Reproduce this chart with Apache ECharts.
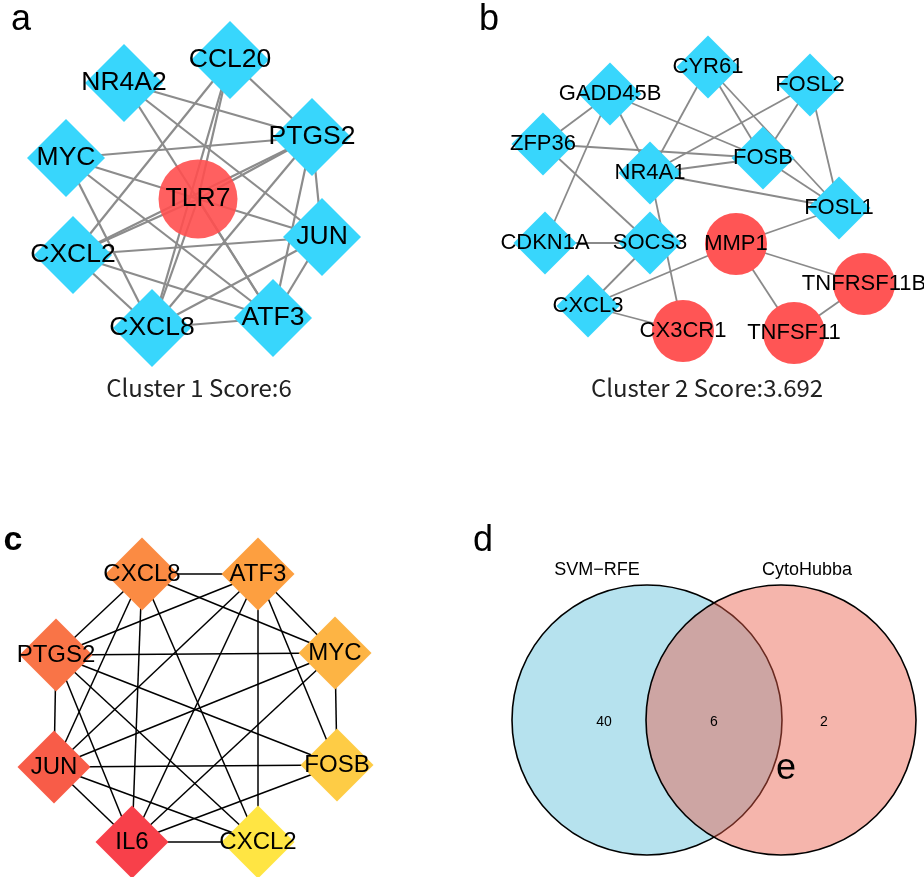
<!DOCTYPE html>
<html><head><meta charset="utf-8">
<script src="https://cdn.jsdelivr.net/npm/echarts@6/dist/echarts.min.js"></script>
<style>html,body{margin:0;padding:0;background:#fff}#c{width:924px;height:877px}</style>
</head><body><div id="c"></div>
<script>
// ---------- Panel a : Cluster 1 ----------
const genesA = ['TLR7','CCL20','NR4A2','PTGS2','MYC','JUN','CXCL2','CXCL8','ATF3'];
const seedsA = ['TLR7'];
const layoutA = [[198,199],[230,60],[124,83],[312,137],[66,158],[322,237],[73,255],[152,328],[273,318]];
const edgesA = [
  ['TLR7','CCL20'],['TLR7','PTGS2'],['TLR7','MYC'],['TLR7','JUN'],['TLR7','CXCL2'],['TLR7','CXCL8'],['TLR7','ATF3'],
  ['NR4A2','PTGS2'],['NR4A2','JUN'],['NR4A2','ATF3'],
  ['CCL20','PTGS2'],['CCL20','CXCL2'],['CCL20','CXCL8'],
  ['MYC','PTGS2'],['MYC','ATF3'],['MYC','CXCL8'],
  ['CXCL2','JUN'],['CXCL2','ATF3'],['CXCL2','CXCL8'],['CXCL2','PTGS2'],
  ['CXCL8','ATF3'],['CXCL8','JUN'],['CXCL8','PTGS2'],
  ['PTGS2','ATF3'],['PTGS2','JUN'],['JUN','ATF3']
];
const captionA = 'Cluster 1 Score:6';

// ---------- Panel b : Cluster 2 ----------
const genesB = ['CYR61','GADD45B','FOSL2','ZFP36','NR4A1','FOSB','FOSL1','CDKN1A','SOCS3','CXCL3','MMP1','TNFRSF11B','TNFSF11','CX3CR1'];
const seedsB = ['MMP1','TNFRSF11B','TNFSF11','CX3CR1'];
const layoutB = [[708,67],[610,94],[810,85],[543,144],[650,173],[763,158],[839,208],[545,243],[650,243],[588,306],[736,244],[864,284],[794,333],[683,331]];
const edgesB = [
  ['GADD45B','ZFP36'],['GADD45B','CDKN1A'],['GADD45B','NR4A1'],['GADD45B','FOSB'],
  ['ZFP36','FOSB'],['ZFP36','SOCS3'],
  ['CYR61','NR4A1'],['CYR61','FOSB'],['CYR61','FOSL1'],
  ['FOSL2','NR4A1'],['FOSL2','FOSB'],['FOSL2','FOSL1'],
  ['NR4A1','FOSB'],['NR4A1','FOSL1'],['NR4A1','CX3CR1'],
  ['FOSB','FOSL1'],['FOSL1','MMP1'],
  ['CDKN1A','SOCS3'],['SOCS3','CXCL3'],['CXCL3','MMP1'],['CXCL3','CX3CR1'],
  ['MMP1','TNFRSF11B'],['MMP1','TNFSF11'],['TNFRSF11B','TNFSF11']
];
const captionB = 'Cluster 2 Score:3.692';

// ---------- Panel c : hub genes (rank order, 1 = top) ----------
const genesC = ['IL6','JUN','PTGS2','CXCL8','ATF3','MYC','FOSB','CXCL2'];
const rankC = [1,2,3,4,5,6,7,8];
const layoutC = [[132,842],[54,767],[56,655],[142,574],[258,574],[335,653],[337,765],[258,842]];
const edgesC = [
  ['CXCL8','ATF3'],['CXCL8','PTGS2'],['CXCL8','JUN'],['CXCL8','IL6'],['CXCL8','CXCL2'],['CXCL8','MYC'],
  ['ATF3','PTGS2'],['ATF3','JUN'],['ATF3','IL6'],['ATF3','CXCL2'],['ATF3','MYC'],['ATF3','FOSB'],
  ['PTGS2','MYC'],['PTGS2','JUN'],['PTGS2','FOSB'],['PTGS2','CXCL2'],['PTGS2','IL6'],
  ['MYC','FOSB'],['MYC','JUN'],['MYC','IL6'],
  ['JUN','FOSB'],['JUN','CXCL2'],['JUN','IL6'],
  ['FOSB','IL6'],['IL6','CXCL2']
];

// ---------- Panel d : Venn ----------
const vennSets = ['SVM\u2212RFE','CytoHubba'];
const vennCounts = [40, 6, 2];   // SVM-RFE only, both, CytoHubba only

// ---------- styles / layout (not data) ----------
const FONT = 'Liberation Sans, Arial, sans-serif';
const BLUE = '#38d6fc';
const RED = '#ff5555';
const rankColors = ['#f8404a','#f85c48','#f97447','#fb8b43','#fd9f40','#fdb444','#fecc45','#ffe543'];
const vennGeom = { centers: [[647,720],[781,720]], r: 135, labelY: 570, countY: 722, countDx: 110 };
const vennFills = ['rgb(182,226,238)','rgba(233,91,71,0.45)'];

function graphSeries(genes, layout, edges, nodeFn, lineStyle, fontSize) {
  return {
    type: 'graph', coordinateSystem: 'cartesian2d', layout: 'none', silent: true,
    animation: false,
    data: genes.map((g, i) => Object.assign({ name: g, value: layout[i] }, nodeFn(g, i))),
    links: edges.map(e => ({ source: e[0], target: e[1] })),
    lineStyle: Object.assign({ opacity: 1, curveness: 0 }, lineStyle),
    label: { show: true, position: 'inside', color: '#000', fontSize: fontSize, fontFamily: FONT },
    emphasis: { disabled: true }
  };
}

const seriesA = graphSeries(genesA, layoutA, edgesA, g => seedsA.includes(g)
  ? { symbol: 'circle', symbolSize: 79, itemStyle: { color: 'rgba(255,79,79,0.9)' } }
  : { symbol: 'diamond', symbolSize: 78, itemStyle: { color: BLUE } },
  { color: '#8c8c8c', width: 2.2 }, 26.5);

const seriesB = graphSeries(genesB, layoutB, edgesB, g => seedsB.includes(g)
  ? { symbol: 'circle', symbolSize: 62, itemStyle: { color: RED } }
  : { symbol: 'diamond', symbolSize: 63, itemStyle: { color: BLUE } },
  { color: '#8a8a8a', width: 1.8 }, 22);

const seriesC = graphSeries(genesC, layoutC, edgesC, (g, i) => (
  { symbol: 'diamond', symbolSize: 73, itemStyle: { color: rankColors[rankC[i] - 1] } }),
  { color: '#000', width: 1.5 }, 24);

const vennCircles = {
  type: 'custom', coordinateSystem: 'cartesian2d', silent: true, animation: false,
  data: vennSets.map((s, i) => [vennGeom.centers[i][0], vennGeom.centers[i][1], vennGeom.r, i]),
  renderItem: function (params, api) {
    const c = api.coord([api.value(0), api.value(1)]);
    const r = api.size([api.value(2), 0])[0];
    return { type: 'circle', shape: { cx: c[0], cy: c[1], r: r },
      style: { fill: vennFills[api.value(3)], stroke: '#000', lineWidth: 1.6 } };
  },
  z: 1
};
const midX = (vennGeom.centers[0][0] + vennGeom.centers[1][0]) / 2;
const vennCountSeries = {
  type: 'scatter', silent: true, animation: false, symbolSize: 0,
  itemStyle: { opacity: 1 },
  data: vennCounts.map((v, i) => [midX + (i - 1) * vennGeom.countDx, vennGeom.countY, v]),
  label: { show: true, position: 'inside', formatter: p => String(p.value[2]), color: '#000', opacity: 1, fontSize: 14, fontFamily: FONT },
  z: 3
};
const vennNameSeries = {
  type: 'scatter', silent: true, animation: false, symbolSize: 0,
  itemStyle: { opacity: 1 },
  data: vennSets.map((s, i) => ({ name: s, value: [vennGeom.centers[i][0] + (i === 0 ? -50 : 26), vennGeom.labelY] })),
  label: { show: true, position: 'inside', formatter: p => p.name, color: '#000', opacity: 1, fontSize: 18, fontFamily: FONT },
  z: 3
};

const chart = echarts.init(document.getElementById('c'), null, { renderer: 'canvas' });
chart.setOption({
  animation: false,
  backgroundColor: '#fff',
  grid: { left: 0, right: 0, top: 0, bottom: 0 },
  xAxis: { type: 'value', min: 0, max: 924, show: false },
  yAxis: { type: 'value', min: 0, max: 877, inverse: true, show: false },
  graphic: [
    { type: 'text', x: 21, y: 20, style: { text: 'a', font: '36px ' + FONT, fill: '#000', align: 'center', verticalAlign: 'middle' } },
    { type: 'text', x: 489, y: 20, style: { text: 'b', font: '36px ' + FONT, fill: '#000', align: 'center', verticalAlign: 'middle' } },
    { type: 'text', x: 13, y: 541, style: { text: 'c', font: 'bold 34px ' + FONT, fill: '#000', align: 'center', verticalAlign: 'middle' } },
    { type: 'text', x: 483, y: 541, style: { text: 'd', font: '36px ' + FONT, fill: '#000', align: 'center', verticalAlign: 'middle' } },
    { type: 'text', x: 786, y: 769, z: 10, style: { text: 'e', font: '36px ' + FONT, fill: '#000', align: 'center', verticalAlign: 'middle' } },
    { type: 'text', x: 199, y: 388, style: { text: captionA, font: '24px "Noto Sans CJK JP", sans-serif', fill: '#222', align: 'center', verticalAlign: 'middle' } },
    { type: 'text', x: 707, y: 388, style: { text: captionB, font: '24px "Noto Sans CJK JP", sans-serif', fill: '#222', align: 'center', verticalAlign: 'middle' } }
  ],
  series: [seriesA, seriesB, seriesC, vennCircles, vennCountSeries, vennNameSeries]
});
</script></body></html>
